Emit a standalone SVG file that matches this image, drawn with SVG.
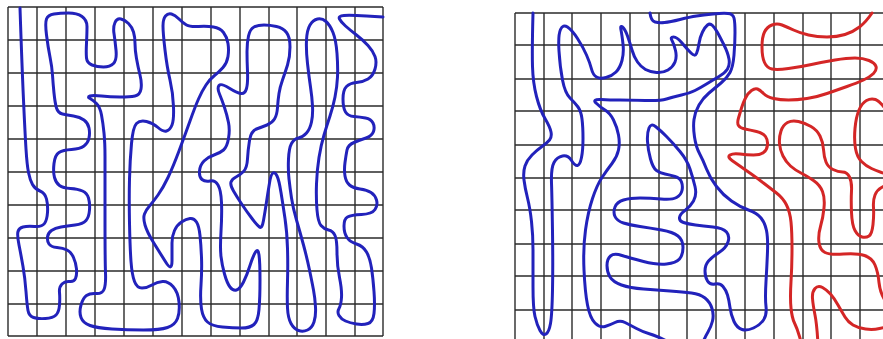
<svg xmlns="http://www.w3.org/2000/svg" width="883" height="339" viewBox="0 0 883 339">
<style>
.grid line{stroke:#2a2a2a;stroke-width:1.4}
.blue{fill:none;stroke:#2222bb;stroke-width:3;stroke-linecap:round;stroke-linejoin:round}
.red{fill:none;stroke:#d42626;stroke-width:3;stroke-linecap:round;stroke-linejoin:round}
</style>
<rect width="883" height="339" fill="#fff"/>
<g id="left-grid" class="grid">
<line x1="8" y1="7" x2="8" y2="336"/><line x1="37" y1="7" x2="37" y2="336"/><line x1="66" y1="7" x2="66" y2="336"/><line x1="95" y1="7" x2="95" y2="336"/><line x1="124" y1="7" x2="124" y2="336"/><line x1="153" y1="7" x2="153" y2="336"/><line x1="182" y1="7" x2="182" y2="336"/><line x1="211" y1="7" x2="211" y2="336"/><line x1="240" y1="7" x2="240" y2="336"/><line x1="269" y1="7" x2="269" y2="336"/><line x1="297" y1="7" x2="297" y2="336"/><line x1="326" y1="7" x2="326" y2="336"/><line x1="355" y1="7" x2="355" y2="336"/><line x1="383" y1="7" x2="383" y2="336"/>
<line x1="8" y1="7" x2="383" y2="7"/><line x1="8" y1="40" x2="383" y2="40"/><line x1="8" y1="73" x2="383" y2="73"/><line x1="8" y1="106" x2="383" y2="106"/><line x1="8" y1="139" x2="383" y2="139"/><line x1="8" y1="172" x2="383" y2="172"/><line x1="8" y1="205" x2="383" y2="205"/><line x1="8" y1="238" x2="383" y2="238"/><line x1="8" y1="271" x2="383" y2="271"/><line x1="8" y1="304" x2="383" y2="304"/><line x1="8" y1="336" x2="383" y2="336"/>
</g>
<g id="right-grid" class="grid">
<line x1="515" y1="13" x2="515" y2="339"/><line x1="544" y1="13" x2="544" y2="339"/><line x1="572" y1="13" x2="572" y2="339"/><line x1="601" y1="13" x2="601" y2="339"/><line x1="630" y1="13" x2="630" y2="339"/><line x1="659" y1="13" x2="659" y2="339"/><line x1="687" y1="13" x2="687" y2="339"/><line x1="716" y1="13" x2="716" y2="339"/><line x1="745" y1="13" x2="745" y2="339"/><line x1="774" y1="13" x2="774" y2="339"/><line x1="803" y1="13" x2="803" y2="339"/><line x1="831" y1="13" x2="831" y2="339"/><line x1="860" y1="13" x2="860" y2="339"/>
<line x1="515" y1="13" x2="883" y2="13"/><line x1="515" y1="45" x2="883" y2="45"/><line x1="515" y1="79" x2="883" y2="79"/><line x1="515" y1="111" x2="883" y2="111"/><line x1="515" y1="145" x2="883" y2="145"/><line x1="515" y1="178" x2="883" y2="178"/><line x1="515" y1="210" x2="883" y2="210"/><line x1="515" y1="244" x2="883" y2="244"/><line x1="515" y1="276" x2="883" y2="276"/><line x1="515" y1="310" x2="883" y2="310"/>
</g>
<g id="left-curve">
<path class="blue" d="M20,8 Q22,67 23.5,100 Q25,133 26,149 Q27,165 28.5,172.5 Q30,180 32.5,184.5 Q35,189 40,191 Q45,193 46.5,199 Q48,205 47.5,212.5 Q47,220 44.5,223.5 Q42,227 34.5,226.5 Q27,226 23,227 Q19,228 18,231.5 Q17,235 19,245 Q21,255 23,266.5 Q25,278 26,291.5 Q27,305 28,310.5 Q29,316 33.5,317.5 Q38,319 45.5,318.5 Q53,318 56,315 Q59,312 59.5,305 Q60,298 59.5,292.5 Q59,287 62,284 Q65,281 69.5,281.5 Q74,282 75.5,278.5 Q77,275 76.5,269 Q76,263 73.5,257.5 Q71,252 67,250 Q63,248 57,247.5 Q51,247 49,244 Q47,241 47.5,237 Q48,233 51.5,230.5 Q55,228 61,227 Q67,226 75,225 Q83,224 86,220.5 Q89,217 89.5,210 Q90,203 88.5,198 Q87,193 82.5,191 Q78,189 70.5,188.5 Q63,188 59.5,185.5 Q56,183 54.5,177.5 Q53,172 54,163.5 Q55,155 59,152.5 Q63,150 71.5,149.5 Q80,149 84,146 Q88,143 89,138 Q90,133 89,128 Q88,123 84,120 Q80,117 73.5,116 Q67,115 62.5,114 Q58,113 56.5,108 Q55,103 54,93 Q53,83 52.5,75 Q52,67 50,57 Q48,47 46.5,35 Q45,23 46.5,19 Q48,15 54,14 Q60,13 68.5,13 Q77,13 82,16.5 Q87,20 87,26.5 Q87,33 86.5,43 Q86,53 86.5,58 Q87,63 92,65 Q97,67 103.5,67 Q110,67 113.5,63.5 Q117,60 116,50 Q115,40 114,33.5 Q113,27 115,22.5 Q117,18 121,19 Q125,20 128.5,23.5 Q132,27 133.5,32 Q135,37 135,43.5 Q135,50 136.5,58.5 Q138,67 140,75 Q142,83 141,89 Q140,95 135,96 Q130,97 120,97 Q110,97 101.5,96 Q93,95 90,96 Q87,97 90,98.5 Q93,100 96.5,103.5 Q100,107 101.5,115 Q103,123 104,133 Q105,143 105,156.5 Q105,170 105,215 Q105,260 105.5,272.5 Q106,285 104,289.5 Q102,294 96,293.5 Q90,293 86.5,295.5 Q83,298 81,305 Q79,312 81,317.5 Q83,323 90,325.5 Q97,328 112,329 Q127,330 143.5,330 Q160,330 167.5,327.5 Q175,325 177.5,318.5 Q180,312 179,302 Q178,292 173,286.5 Q168,281 162.5,281.5 Q157,282 152,285 Q147,288 142,288 Q137,288 134.5,281.5 Q132,275 131,261.5 Q130,248 129.5,223 Q129,198 129.5,179 Q130,160 131.5,143.5 Q133,127 136.5,123.5 Q140,120 146.5,121.5 Q153,123 158,127.5 Q163,132 166.5,131 Q170,130 172,125 Q174,120 173.5,106.5 Q173,93 170,80 Q167,67 165,50 Q163,33 163,26 Q163,19 165.5,16 Q168,13 171.5,14 Q175,15 179,19 Q183,23 186.5,25 Q190,27 198.5,26.5 Q207,26 213.5,27 Q220,28 223.5,32.5 Q227,37 228,43.5 Q229,50 228,56.5 Q227,63 223,67.5 Q219,72 214.5,75.5 Q210,79 206,85 Q202,91 198.5,99 Q195,107 190,121 Q185,135 179,151 Q173,167 168,177.5 Q163,188 158,195 Q153,202 149.5,206 Q146,210 144.5,214 Q143,218 145,225 Q147,232 153.5,242.5 Q160,253 166,262.5 Q172,272 172,261 Q172,250 172,243 Q172,236 174.5,230.5 Q177,225 181.5,222 Q186,219 190,218.5 Q194,218 196.5,222 Q199,226 200,235.5 Q201,245 201.5,257.5 Q202,270 201,285 Q200,300 201.5,309 Q203,318 207.5,322 Q212,326 222.5,327 Q233,328 241.5,328 Q250,328 254,324.5 Q258,321 259,309.5 Q260,298 260,280 Q260,262 259,255 Q258,248 255.5,252 Q253,256 250,265.5 Q247,275 243.5,282 Q240,289 236.5,290 Q233,291 230,287 Q227,283 224.5,274 Q222,265 221,256.5 Q220,248 221,231.5 Q222,215 221.5,202.5 Q221,190 218,185 Q215,180 210,181 Q205,182 202,179.5 Q199,177 199.5,171 Q200,165 204,161 Q208,157 214,155 Q220,153 223.5,150 Q227,147 228.5,138.5 Q230,130 228.5,122.5 Q227,115 224.5,107.5 Q222,100 219.5,94 Q217,88 219,85.5 Q221,83 229,88 Q237,93 241,93.5 Q245,94 246.5,88.5 Q248,83 247.5,71.5 Q247,60 247,51.5 Q247,43 248.5,36 Q250,29 254,27 Q258,25 264,25 Q270,25 276.5,26.5 Q283,28 286.5,32.5 Q290,37 290,47 Q290,57 287.5,65 Q285,73 282.5,80 Q280,87 279,93.5 Q278,100 277.5,107.5 Q277,115 274.5,119 Q272,123 267,125 Q262,127 256.5,129 Q251,131 249.5,140.5 Q248,150 247.5,159 Q247,168 243.5,171.5 Q240,175 236,177 Q232,179 231,182 Q230,185 233.5,191 Q237,197 242,204.5 Q247,212 252,218.5 Q257,225 259.5,227 Q262,229 263.5,220.5 Q265,212 266.5,202 Q268,192 269.5,183 Q271,174 273,173 Q275,172 277,176 Q279,180 281,192.5 Q283,205 285,218.5 Q287,232 287.5,248.5 Q288,265 287.5,281.5 Q287,298 287.5,308 Q288,318 291,323.5 Q294,329 298.5,330.5 Q303,332 307.5,330 Q312,328 314,322 Q316,316 315.5,307 Q315,298 313.5,290 Q312,282 309.5,270 Q307,258 303.5,245 Q300,232 296.5,220 Q293,208 291.5,198 Q290,188 289,179 Q288,170 288.5,159 Q289,148 291.5,143.5 Q294,139 298.5,138 Q303,137 306.5,133 Q310,129 311.5,122 Q313,115 312.5,106 Q312,97 310.5,87 Q309,77 307.5,63.5 Q306,50 306.5,40 Q307,30 310,25 Q313,20 317.5,19 Q322,18 326,21.5 Q330,25 333,32.5 Q336,40 337,53.5 Q338,67 337.5,77 Q337,87 335,97 Q333,107 330,116 Q327,125 324,135 Q321,145 319,157.5 Q317,170 316.5,184 Q316,198 317,210 Q318,222 321,225.5 Q324,229 328.5,230 Q333,231 335,235.5 Q337,240 337,252.5 Q337,265 339.5,277.5 Q342,290 341.5,297.5 Q341,305 339,308.5 Q337,312 339,315.5 Q341,319 345.5,321 Q350,323 356.5,324 Q363,325 368,323.5 Q373,322 374,313.5 Q375,305 374,291.5 Q373,278 371.5,268 Q370,258 366.5,252 Q363,246 356.5,244 Q350,242 347,237.5 Q344,233 344,226 Q344,219 347.5,217 Q351,215 361.5,214.5 Q372,214 375,209.5 Q378,205 376.5,200 Q375,195 371,192.5 Q367,190 360,189 Q353,188 349.5,185 Q346,182 345,176 Q344,170 345,162.5 Q346,155 347,150 Q348,145 354,142.5 Q360,140 366,138 Q372,136 373.5,131.5 Q375,127 373,123 Q371,119 365.5,118 Q360,117 354,116.5 Q348,116 345.5,112 Q343,108 343,99 Q343,90 346.5,86.5 Q350,83 356.5,82.5 Q363,82 368,79 Q373,76 375,69 Q377,62 375,56.5 Q373,51 368,45.5 Q363,40 356.5,35 Q350,30 345.5,26 Q341,22 339.5,19 Q338,16 344,15.5 Q350,15 366.5,16 L383,17"/>
</g>
<g id="right-blue-curve">
<path class="blue" d="M533,13 Q532,50 532.5,66.5 Q533,83 536.5,96.5 Q540,110 545,118.5 Q550,127 551,132 Q552,137 549.5,140 Q547,143 542,146.5 Q537,150 532,155 Q527,160 525,166 Q523,172 524,180 Q525,188 527.5,198 Q530,208 531.5,221.5 Q533,235 533,250 Q533,265 533,286.5 Q533,308 535,316.5 Q537,325 540,330.5 Q543,336 546,334 Q549,332 550.5,323.5 Q552,315 552.5,290 Q553,265 552.5,231.5 Q552,198 551.5,183 Q551,168 554,162.5 Q557,157 562.5,156 Q568,155 571.5,160.5 Q575,166 577.5,165.5 Q580,165 581.5,157.5 Q583,150 583,138.5 Q583,127 582,119 Q581,111 578,107 Q575,103 570,98 Q565,93 562.5,80 Q560,67 559,51 Q558,35 560.5,29.5 Q563,24 567.5,27 Q572,30 577.5,38.5 Q583,47 586.5,55 Q590,63 591.5,69 Q593,75 596.5,77 Q600,79 606,77.5 Q612,76 616,72 Q620,68 622,60.5 Q624,53 623,44 Q622,35 621,30 Q620,25 622.5,27 Q625,29 627.5,36 Q630,43 632,50 Q634,57 637.5,62 Q641,67 645.5,69.5 Q650,72 656.5,72.5 Q663,73 668,70 Q673,67 675,62 Q677,57 675.5,50.5 Q674,44 672,40.5 Q670,37 673.5,37 Q677,37 682,43 Q687,49 691,53 Q695,57 696.5,53.5 Q698,50 699,43.5 Q700,37 702.5,32 Q705,27 707.5,25 Q710,23 712.5,25.5 Q715,28 717.5,32.5 Q720,37 724,45 Q728,53 729,59 Q730,65 727.5,69 Q725,73 719,76.5 Q713,80 706.5,84 Q700,88 695,90.5 Q690,93 681.5,95 Q673,97 666.5,99 Q660,101 645,100.5 Q630,100 620,100 Q610,100 601,99.5 Q592,99 596,103 Q600,107 605,110 Q610,113 613.5,120 Q617,127 618.5,135 Q620,143 618.5,150 Q617,157 612,163.5 Q607,170 602,177.5 Q597,185 592.5,198.5 Q588,212 585.5,230 Q583,248 584,270 Q585,292 587.5,305 Q590,318 595,323 Q600,328 605,326.5 Q610,325 615,322.5 Q620,320 625,322.5 Q630,325 636.5,328.5 Q643,332 650,334 Q657,336 668.5,342 L680,348"/>
<path class="blue" d="M650,13 Q651,21 655,22 Q659,23 664.5,22.5 Q670,22 680,19.5 Q690,17 696.5,16 Q703,15 713,14 Q723,13 728,13.5 Q733,14 734,18 Q735,22 735,32.5 Q735,43 734,55 Q733,67 730,72.5 Q727,78 721,83 Q715,88 709,93 Q703,98 699,105 Q695,112 694,119.5 Q693,127 694.5,137 Q696,147 699.5,153.5 Q703,160 706.5,169 Q710,178 716.5,186.5 Q723,195 731.5,201 Q740,207 748.5,210 Q757,213 761,218 Q765,223 766.5,230.5 Q768,238 767.5,251.5 Q767,265 766,281.5 Q765,298 766,306.5 Q767,315 763.5,320 Q760,325 753.5,328 Q747,331 742,329.5 Q737,328 734,321.5 Q731,315 730,307.5 Q729,300 727.5,295 Q726,290 723,286.5 Q720,283 715,284 Q710,285 707.5,281 Q705,277 705,271 Q705,265 708.5,261 Q712,257 719,252.5 Q726,248 728,242 Q730,236 726.5,232 Q723,228 713,227 Q703,226 695.5,225 Q688,224 683.5,222.5 Q679,221 679.5,217.5 Q680,214 685,210.5 Q690,207 693.5,201 Q697,195 695,186.5 Q693,178 690,169 Q687,160 680,151.5 Q673,143 666.5,136.5 Q660,130 655.5,126.5 Q651,123 649,128 Q647,133 647.5,141.5 Q648,150 650.5,159 Q653,168 656.5,170.5 Q660,173 665,174 Q670,175 675,176.5 Q680,178 681.5,182 Q683,186 682,190.5 Q681,195 676.5,197.5 Q672,200 661,199 Q650,198 640,198 Q630,198 623.5,200 Q617,202 615,207 Q613,212 615,216.5 Q617,221 623.5,223 Q630,225 640,226.5 Q650,228 661.5,230 Q673,232 678,236 Q683,240 683,247.5 Q683,255 679.5,259 Q676,263 666.5,264 Q657,265 643.5,261.5 Q630,258 622,255.5 Q614,253 610.5,256 Q607,259 607,265.5 Q607,272 610,277 Q613,282 621.5,285 Q630,288 643.5,289 Q657,290 670,291 Q683,292 691.5,293 Q700,294 705,298 Q710,302 712,308.5 Q714,315 712.5,321 Q711,327 708,332 Q705,337 702.5,343.5 L700,350"/>
</g>
<g id="right-red-curve">
<path class="red" d="M872,13 Q866,22 859.5,27 Q853,32 845,34.5 Q837,37 827,37 Q817,37 808.5,35 Q800,33 793.5,30 Q787,27 782,25 Q777,23 772,25 Q767,27 764.5,32 Q762,37 762,47 Q762,57 764.5,62.5 Q767,68 772,69 Q777,70 788.5,68.5 Q800,67 811.5,64.5 Q823,62 835,60 Q847,58 855,58 Q863,58 869,60.5 Q875,63 876,66.5 Q877,70 873.5,73.5 Q870,77 863.5,80 Q857,83 847,86.5 Q837,90 827,93.5 Q817,97 807,98.5 Q797,100 788.5,100 Q780,100 773.5,98.5 Q767,97 763.5,93.5 Q760,90 757.5,89 Q755,88 751.5,90.5 Q748,93 745.5,98 Q743,103 741.5,108 Q740,113 738.5,118 Q737,123 738.5,125.5 Q740,128 745,129 Q750,130 756.5,131.5 Q763,133 765.5,136.5 Q768,140 767.5,145 Q767,150 763.5,152.5 Q760,155 753.5,155 Q747,155 740,154 Q733,153 730,155 Q727,157 732,160.5 Q737,164 742,167.5 Q747,171 752,174.5 Q757,178 763.5,183 Q770,188 776.5,193 Q783,198 786.5,205 Q790,212 791,222 Q792,232 792,248.5 Q792,265 791,281.5 Q790,298 791,308 Q792,318 794.5,323 Q797,328 799.5,336.5 L802,345"/>
<path class="red" d="M886,302 Q880,293 879,282.5 Q878,272 875,265 Q872,258 864.5,255.5 Q857,253 843.5,254 Q830,255 825,252.5 Q820,250 819,242.5 Q818,235 820.5,226.5 Q823,218 824,208 Q825,198 822.5,191.5 Q820,185 813.5,180.5 Q807,176 801,173 Q795,170 790.5,166 Q786,162 783,156 Q780,150 779.5,143.5 Q779,137 781,131 Q783,125 787.5,122.5 Q792,120 798.5,121.5 Q805,123 811,126.5 Q817,130 820,136 Q823,142 823.5,149.5 Q824,157 826,162 Q828,167 833,169.5 Q838,172 842.5,172 Q847,172 849.5,177 Q852,182 851.5,191 Q851,200 851.5,212.5 Q852,225 855,230.5 Q858,236 862,237 Q866,238 869,236 Q872,234 873,224.5 Q874,215 873.5,207.5 Q873,200 875,195 Q877,190 881.5,187.5 L886,185"/>
<path class="red" d="M886,110 Q880,101 875.5,99.5 Q871,98 866.5,100.5 Q862,103 859,110 Q856,117 855,128.5 Q854,140 855.5,148.5 Q857,157 861.5,161.5 Q866,166 871.5,168.5 Q877,171 881.5,172.5 L886,174"/>
<path class="red" d="M818,345 Q817,325 815,315 Q813,305 812.5,298.5 Q812,292 815,288.5 Q818,285 822.5,287.5 Q827,290 830.5,294 Q834,298 838,305 Q842,312 845,317 Q848,322 853,325 Q858,328 865.5,329 Q873,330 879.5,328.5 L886,327"/>
</g>
</svg>
